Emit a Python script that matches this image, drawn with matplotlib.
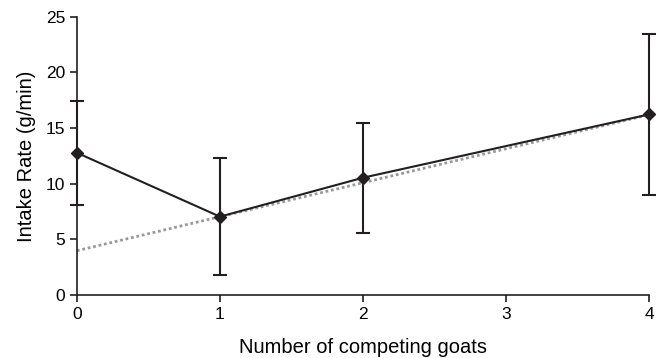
import numpy as np
import matplotlib.pyplot as plt

plt.rcParams['font.family'] = ['Liberation Sans', 'DejaVu Sans']

# Intake rate vs number of competing goats
goats = [0, 1, 2, 4]
intake = [12.78, 7.04, 10.54, 16.23]
err = [4.67, 5.26, 4.96, 7.25]

# linear trend line (values read at x = 0 and x = 4)
trend_x = [0, 4]
trend_y = [3.98, 16.2]

fig = plt.figure(figsize=(6.63, 3.58), dpi=100)
ax = fig.add_axes([0.116, 0.176, 0.863, 0.777])

ax.plot(trend_x, trend_y, color='#999999', lw=2, ls=(0, (1, 1)), zorder=2)
ax.errorbar(goats, intake, yerr=err, color='#231f20', lw=1.5, marker='D',
            ms=6.5, capsize=5, capthick=1.5, elinewidth=1.5, zorder=3, clip_on=False)

ax.set_xlim(0, 4)
ax.set_ylim(0, 25)
ax.set_xticks([0, 1, 2, 3, 4])
ax.set_yticks([0, 5, 10, 15, 20, 25])
for s in ['top', 'right']:
    ax.spines[s].set_visible(False)
for s in ['left', 'bottom']:
    ax.spines[s].set_color('#231f20')
    ax.spines[s].set_linewidth(1.2)
ax.tick_params(direction='out', length=5, width=1.2, color='#231f20', labelsize=12.5)
ax.set_xlabel('Number of competing goats', fontsize=14.5, labelpad=12)
ax.set_ylabel('Intake Rate (g/min)', fontsize=14.5, labelpad=7)

fig.savefig('out.png', dpi=100)
